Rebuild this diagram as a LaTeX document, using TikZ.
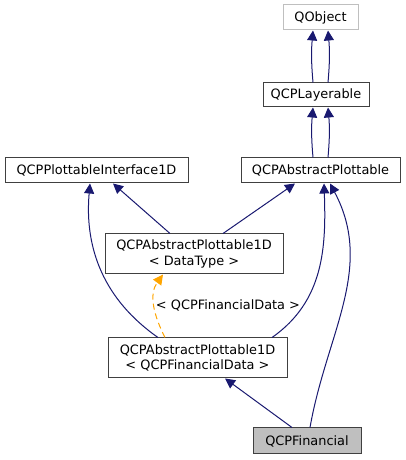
\documentclass[tikz,border=0pt]{standalone}
\usepackage{fontspec}
\setmainfont{DejaVu Sans}
\usetikzlibrary{arrows.meta}
\definecolor{edgeblue}{HTML}{191970}
\definecolor{boxgray}{HTML}{404040}
\definecolor{lightgray}{HTML}{BFBFBF}
\definecolor{tmplorange}{HTML}{FFA500}
\begin{document}
\begin{tikzpicture}[x=1pt, y=1pt,
    >={Triangle[length=10pt,width=10pt]},
    cls/.style={draw=boxgray, line width=1pt, fill=white, inner sep=0pt,
                align=center, font=\fontsize{12.9}{15.5}\selectfont},
    inherit/.style={->, draw=edgeblue, line width=1pt},
    tmpl/.style={->, draw=tmplorange, line width=1pt, dash pattern=on 6pt off 4pt}]
    \useasboundingbox (0,0) rectangle (406,460);
    % classes
    \node[cls, draw=lightgray, minimum width=75pt, minimum height=25pt] (obj) at (320.5,442.5) {QObject};
    \node[cls, minimum width=106pt, minimum height=24pt] (lay) at (316,365) {QCPLayerable};
    \node[cls, minimum width=159pt, minimum height=25pt] (abs) at (320.5,289.5) {QCPAbstractPlottable};
    \node[cls, minimum width=183pt, minimum height=25pt] (iface) at (96.5,289.5) {QCPPlottableInterface1D};
    \node[cls, minimum width=178pt, minimum height=40pt] (dt) at (194,206) {QCPAbstractPlottable1D\\{<} DataType {>}};
    \node[cls, minimum width=179pt, minimum height=40pt] (fin1d) at (197.5,102) {QCPAbstractPlottable1D\\{<} QCPFinancialData {>}};
    \node[cls, fill=lightgray, minimum width=108pt, minimum height=26pt] (fin) at (307,19) {QCPFinancial};
    \node[font=\fontsize{12.9}{15.5}\selectfont, inner sep=0pt] (tlabel) at (228,155) {{<} QCPFinancialData {>}};

    % inheritance
    \draw[inherit] ([xshift=-3pt]lay.north) to[out=95,in=-95] ([xshift=-7.5pt]obj.south);
    \draw[inherit] ([xshift=12pt]lay.north) to[out=85,in=-85] ([xshift=7.5pt]obj.south);
    \draw[inherit] ([xshift=-7.5pt]abs.north) to[out=95,in=-95] ([xshift=-3pt]lay.south);
    \draw[inherit] ([xshift=7.5pt]abs.north) to[out=85,in=-85] ([xshift=12pt]lay.south);

    \draw[inherit] ([xshift=-24pt]dt.north) -- ([xshift=16.5pt]iface.south);
    \draw[inherit] ([xshift=29pt]dt.north) -- ([xshift=-25.5pt]abs.south);

    \draw[inherit] ([xshift=-39.5pt]fin1d.north) to[out=145,in=-95] ([xshift=-6.5pt]iface.south);
    \draw[inherit] ([xshift=74.5pt]fin1d.north) to[out=35,in=-88] ([xshift=3.5pt]abs.south);
    \draw[tmpl] ([xshift=-32.5pt]fin1d.north) to[out=117,in=-126] ([xshift=-31pt]dt.south);

    \draw[inherit] ([xshift=-15pt]fin.north) -- ([xshift=27.5pt]fin1d.south);
    \draw[inherit] ([xshift=3pt]fin.north) to[out=80,in=-62] ([xshift=9.5pt]abs.south);
\end{tikzpicture}
\end{document}
